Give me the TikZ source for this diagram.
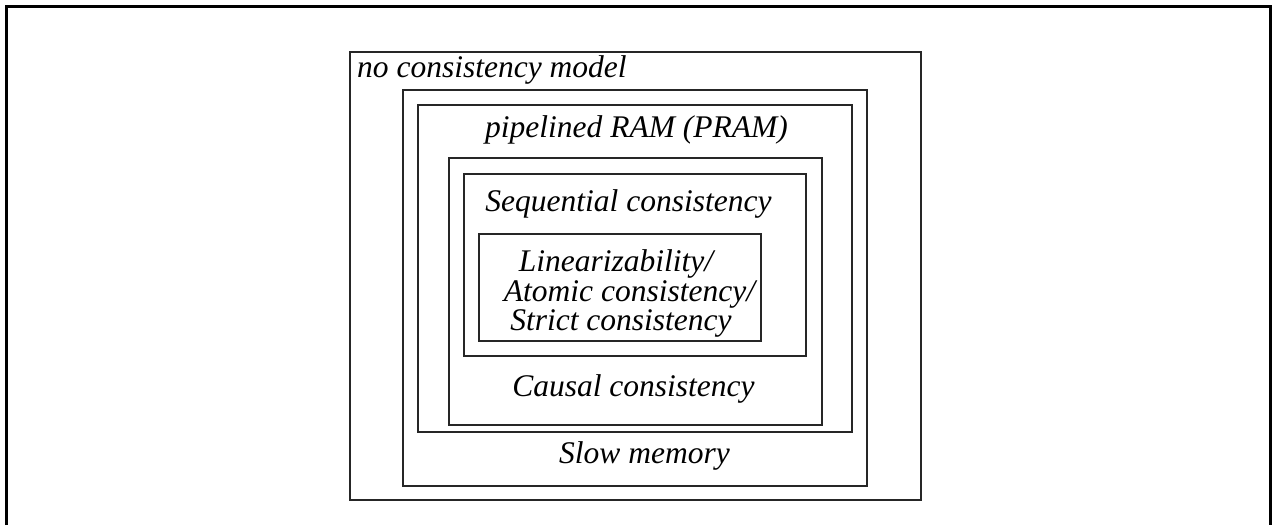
\documentclass[tikz,border=0pt]{standalone}
\usepackage{fontspec}
\setmainfont{Liberation Serif}
\begin{document}
\begin{tikzpicture}[x=1pt,y=-1pt,
  box/.style={draw=black!85,line width=1.3pt},
  lbl/.style={inner sep=0pt,anchor=base,font=\fontsize{31.5}{30}\selectfont\itshape},
  frame/.style={draw=black,line width=3pt}]
\useasboundingbox (0,0) rectangle (1272,525);
\draw[frame] (6,525) -- (6,6) -- (1270.5,6) -- (1270.5,525);
\draw[box] (350,52) rectangle (921,500);
\draw[box] (403,90) rectangle (867,486);
\draw[box] (418,105) rectangle (852,432);
\draw[box] (449,158) rectangle (822,425);
\draw[box] (464,174) rectangle (806,356);
\draw[box] (479,234) rectangle (761,341);
\node[lbl,anchor=base west] (none) at (357,77) {no consistency model};
\node[lbl] (pram) at (636.5,137) {pipelined RAM (PRAM)};
\node[lbl] (seq) at (628.5,211) {Sequential consistency};
\node[lbl] (lin1) at (616,271) {Linearizability/};
\node[lbl] (lin2) at (629.5,301) {Atomic consistency/};
\node[lbl] (lin3) at (621,330) {Strict consistency};
\node[lbl] (causal) at (633.5,396) {Causal consistency};
\node[lbl] (slow) at (644.5,463) {Slow memory};
\end{tikzpicture}
\end{document}
